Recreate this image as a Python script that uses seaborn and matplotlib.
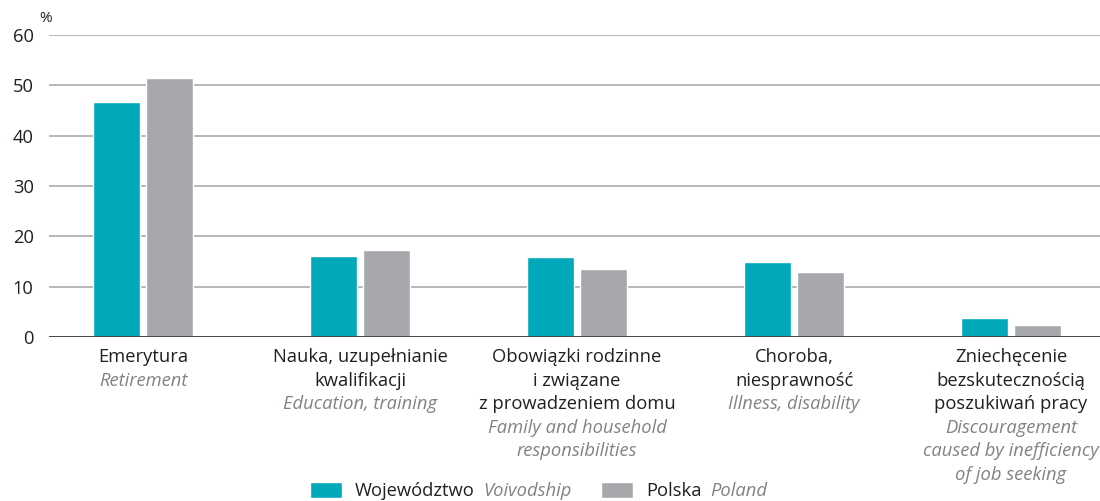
import matplotlib
matplotlib.use("Agg")
import matplotlib.pyplot as plt
import seaborn as sns
import pandas as pd
from matplotlib.transforms import blended_transform_factory

# categories: Polish lines + English (italic) lines
categories_pl = [
    ["Emerytura"],
    ["Nauka, uzupełnianie", "kwalifikacji"],
    ["Obowiązki rodzinne", "i związane", "z prowadzeniem domu"],
    ["Choroba,", "niesprawność"],
    ["Zniechęcenie", "bezskutecznością", "poszukiwań pracy"],
]
categories_en = [
    ["Retirement"],
    ["Education, training"],
    ["Family and household", "responsibilities"],
    ["Illness, disability"],
    ["Discouragement", "caused by inefficiency", "of job seeking"],
]
series_pl = ["Województwo", "Polska"]
series_en = ["Voivodship", "Poland"]
woj_values = [46.7, 16.0, 15.8, 14.9, 3.7]
pol_values = [51.5, 17.2, 13.5, 12.9, 2.3]
y_ticks = [0, 10, 20, 30, 40, 50, 60]

TEAL = "#00a8ba"
GRAY = "#a7a8ab"
DARK = "#231f20"
EN_GRAY = "#808285"

keys = [" ".join(c) for c in categories_pl]
df = pd.DataFrame({
    "kategoria": keys * 2,
    "seria": [series_pl[0]] * len(keys) + [series_pl[1]] * len(keys),
    "wartosc": woj_values + pol_values,
})

sns.set_theme(style="white")
plt.rcParams["font.family"] = ["Open Sans", "DejaVu Sans"]
FS = 13.2

W, H = 1100, 501
fig = plt.figure(figsize=(W / 100, H / 100), dpi=100)
ax = fig.add_axes([49 / W, 1 - 337 / H, 1 - 49 / W, 302 / H])

sns.barplot(data=df, x="kategoria", y="wartosc", hue="seria",
            palette=[TEAL, GRAY], saturation=1, width=0.488, gap=0.113,
            ax=ax)
handles, labels = ax.get_legend_handles_labels()
ax.get_legend().remove()

ax.set_xlim(-0.433, 4.41)
ax.set_ylim(0, 60)
ax.set_yticks(y_ticks)
ax.set_xticks([])
ax.set_xlabel("")
ax.set_ylabel("")
ax.tick_params(axis="y", length=0, pad=11, labelsize=FS, labelcolor=DARK)
for s in ax.spines.values():
    s.set_visible(False)
ax.yaxis.grid(True, color="#b1b1b1", lw=1.3)
ax.set_axisbelow(True)
ax.axhline(0, color="#3c3c3c", lw=1.3, zorder=3)

fig.text(39 / W, 1 - 19 / H, "%", fontsize=11, color=DARK, ha="left", va="center")

# category labels below the axis
trans = blended_transform_factory(ax.transData, ax.transAxes)
line_h = 23.6
for i, (pl, en) in enumerate(zip(categories_pl, categories_en)):
    lines = [(t, "normal", DARK) for t in pl] + [(t, "italic", EN_GRAY) for t in en]
    for j, (t, style, col) in enumerate(lines):
        ax.text(i, -(20 + j * line_h) / 302, t, transform=trans, ha="center",
                va="center", fontsize=FS, style=style, color=col)

# legend: one entry per series, with English name added in italic
legend_x = [310, 601]
for h, lab, en, x in zip(handles, labels, series_en, legend_x):
    leg = fig.legend([h], [lab], loc="center left", bbox_to_anchor=(x / W, 1 - 491 / H),
                     frameon=False, fontsize=FS, borderpad=0, borderaxespad=0,
                     handlelength=1.75, handleheight=1.0, handletextpad=0.7,
                     labelcolor=DARK)
    fig.canvas.draw()
    bb = leg.get_texts()[0].get_window_extent()
    fig.text((bb.x1 + 9) / W, (bb.y0 + bb.y1) / 2 / H, en, fontsize=FS,
             style="italic", color=EN_GRAY, ha="left", va="center")

fig.savefig("out.png", dpi=100)
